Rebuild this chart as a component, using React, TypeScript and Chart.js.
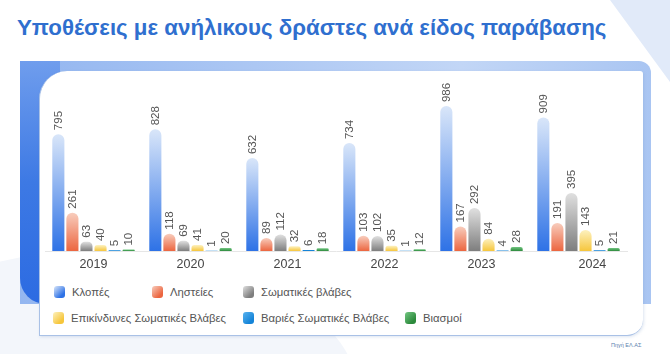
import React, { useEffect, useRef } from 'react';
import { Chart, registerables } from 'chart.js';

Chart.register(...registerables);

// ---------- DATA ----------
const years = ['2019', '2020', '2021', '2022', '2023', '2024'];
const tickLabels = ['2019', '2020', '2021', '2022', '2023', '        2024'];
const seriesNames = [
  'Κλοπές',
  'Ληστείες',
  'Σωματικές βλάβες',
  'Επικίνδυνες Σωματικές Βλάβες',
  'Βαριές Σωματικές Βλάβες',
  'Βιασμοί',
];
const klopes = [795, 828, 632, 734, 986, 909];
const lysteies = [261, 118, 89, 103, 167, 191];
const somatikes = [63, 69, 112, 102, 292, 395];
const epikindynes = [40, 41, 32, 35, 84, 143];
const varies = [5, 1, 6, 1, 4, 5];
const viasmoi = [10, 20, 18, 12, 28, 21];
const seriesValues = [klopes, lysteies, somatikes, epikindynes, varies, viasmoi];
const yMax = 1000;
const titleText = 'Υποθέσεις με ανήλικους δράστες ανά είδος παράβασης';
const sourceText = 'Πηγή ΕΛ.ΑΣ';

// ---------- STYLE ----------
const gradients: [string, string][] = [
  ['#d9e6f9', '#2e72e6'],
  ['#f8cdbd', '#ec6640'],
  ['#e0e0e0', '#7e7e7e'],
  ['#fdf1bf', '#f6c63c'],
  ['#58b2ee', '#1584d8'],
  ['#74c783', '#2c8a3c'],
];
const FONT = 'Arial, "Liberation Sans", sans-serif';

// legend layout — styling only
const legendRows = [
  [0, 1, 2],
  [3, 4, 5],
];
const legendLeft = [
  [54, 152, 243],
  [53, 243, 405],
];
const legendTop = [292, 318];

const valueLabelPlugin = {
  id: 'valueLabels',
  afterDatasetsDraw(chart: any) {
    const ctx = chart.ctx;
    ctx.save();
    ctx.fillStyle = '#555555';
    ctx.font = '11.5px ' + FONT;
    ctx.textAlign = 'left';
    ctx.textBaseline = 'middle';
    chart.data.datasets.forEach((ds: any, di: number) => {
      const meta = chart.getDatasetMeta(di);
      meta.data.forEach((el: any, i: number) => {
        ctx.save();
        ctx.translate(el.x, el.y - 4);
        ctx.rotate(-Math.PI / 2);
        ctx.fillText(String(ds.data[i]), 0, 0.5);
        ctx.restore();
      });
    });
    ctx.restore();
  },
};

function barGradient(idx: number) {
  const [topC, botC] = gradients[idx];
  return (c: any) => {
    const chart = c.chart;
    if (!chart.chartArea || c.type !== 'data') return botC;
    const ys = chart.scales.y;
    const top = ys.getPixelForValue(c.raw as number);
    const base = ys.getPixelForValue(0);
    if (base - top < 1) return botC;
    const g = chart.ctx.createLinearGradient(0, top, 0, base);
    g.addColorStop(0, topC);
    g.addColorStop(1, botC);
    return g;
  };
}

export default function App() {
  const canvasRef = useRef<HTMLCanvasElement | null>(null);

  useEffect(() => {
    document.body.style.margin = '0';
    if (!canvasRef.current) return;
    const chart = new Chart(canvasRef.current, {
      type: 'bar',
      data: {
        labels: tickLabels,
        datasets: seriesNames.map((name, i) => ({
          label: name,
          data: seriesValues[i],
          backgroundColor: barGradient(i),
          borderWidth: 0,
          borderRadius: { topLeft: 6, topRight: 6, bottomLeft: 0, bottomRight: 0 },
          borderSkipped: 'bottom',
          categoryPercentage: 0.87,
          barPercentage: 0.86,
        })),
      },
      options: {
        animation: false,
        responsive: true,
        maintainAspectRatio: false,
        layout: { padding: { left: 5, right: 16, top: 29, bottom: 0 } },
        plugins: {
          legend: { display: false },
          tooltip: { enabled: false },
          title: { display: false },
        },
        scales: {
          x: {
            grid: { display: false, drawTicks: false, tickLength: 0 },
            border: { display: true, color: '#e6e6e6', width: 1 },
            ticks: { color: '#444444', font: { size: 12.5, family: FONT }, padding: 6 },
          },
          y: { display: false, min: 0, max: yMax },
        },
      },
      plugins: [valueLabelPlugin],
    });
    return () => chart.destroy();
  }, []);

  return (
    <div
      style={{
        position: 'fixed',
        left: 0,
        top: 0,
        width: 670,
        height: 354,
        overflow: 'hidden',
        background: '#ffffff',
        fontFamily: FONT,
      }}
    >
      {/* background decorations */}
      <div
        style={{
          position: 'absolute',
          left: 0,
          top: 0,
          width: 670,
          height: 354,
          background: '#e1eaf9',
          clipPath: 'polygon(610px 0px, 670px 0px, 670px 82px)',
        }}
      />
      <div
        style={{
          position: 'absolute',
          left: -160,
          top: 250,
          width: 520,
          height: 300,
          borderRadius: '50%',
          background: '#f3f6fb',
        }}
      />
      {/* title */}
      <div
        style={{
          position: 'absolute',
          left: 17,
          top: 13,
          fontSize: 22.3,
          fontWeight: 'bold',
          color: '#2f6fcf',
          whiteSpace: 'nowrap',
          lineHeight: '30px',
        }}
      >
        {titleText}
      </div>
      {/* blue frame */}
      <div
        style={{
          position: 'absolute',
          left: 20,
          top: 61,
          width: 631,
          height: 243,
          borderTopRightRadius: 12,
          background: 'linear-gradient(90deg, #93b6f0 0%, #c2d6f6 70%, #a9c5f2 100%)',
        }}
      />
      <div
        style={{
          position: 'absolute',
          left: 20,
          top: 61,
          width: 40,
          height: 243,
          borderBottomLeftRadius: 26,
          background: 'linear-gradient(180deg, #6f9ded 0%, #3d79e4 50%, #2c6be2 100%)',
        }}
      />
      {/* white panel */}
      <div
        style={{
          position: 'absolute',
          left: 39,
          top: 71,
          width: 603,
          height: 264,
          background: '#ffffff',
          borderTopLeftRadius: 28,
          borderTopRightRadius: 3,
          borderBottomRightRadius: 16,
          borderLeft: '1px solid #a9c1e6',
          borderBottom: '1px solid #a9c1e6',
          boxShadow: '1px 1px 3px rgba(120,150,200,0.25)',
        }}
      />
      {/* chart */}
      <div style={{ position: 'absolute', left: 40, top: 75, width: 603, height: 203 }}>
        <canvas ref={canvasRef} />
      </div>
      {/* legend */}
      {legendRows.map((row, r) =>
        row.map((si, k) => (
          <div
            key={si}
            style={{
              position: 'absolute',
              left: legendLeft[r][k],
              top: legendTop[r] - 9,
              height: 18,
              display: 'flex',
              alignItems: 'center',
              whiteSpace: 'nowrap',
              fontSize: 11.3,
              color: '#555555',
            }}
          >
            <span
              style={{
                display: 'inline-block',
                width: 11,
                height: 12,
                borderRadius: 3,
                marginRight: 7,
                background: `linear-gradient(135deg, ${gradients[si][0]} 0%, ${gradients[si][1]} 75%)`,
              }}
            />
            <span>{seriesNames[si]}</span>
          </div>
        ))
      )}
      {/* source */}
      <div
        style={{
          position: 'absolute',
          left: 611,
          top: 341,
          fontSize: 5.5,
          lineHeight: '8px',
          color: '#5b7fae',
          whiteSpace: 'nowrap',
        }}
      >
        {sourceText}
      </div>
    </div>
  );
}
